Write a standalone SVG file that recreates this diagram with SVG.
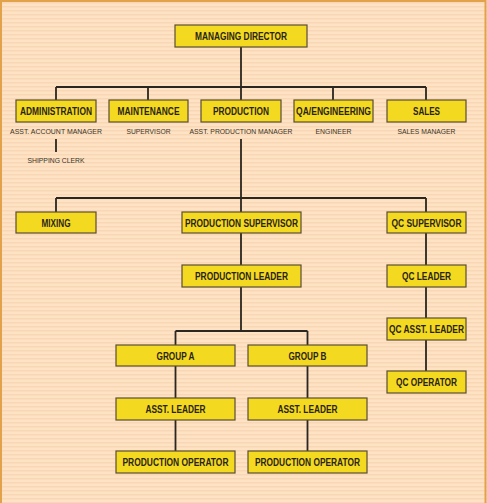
<svg xmlns="http://www.w3.org/2000/svg" width="487" height="503" viewBox="0 0 487 503">
<defs>
<pattern id="stripes" width="4" height="4" patternUnits="userSpaceOnUse">
<rect width="4" height="4" fill="#fde2c4"/>
<rect y="2" width="4" height="1.5" fill="#f9d6b4"/>
</pattern>
</defs>
<style>
.box{fill:#f4d921;stroke:#5a4e33;stroke-width:1.2}
.t{font-family:"Liberation Sans",Arial,sans-serif;font-weight:bold;font-size:10.5px;fill:#2a2418;text-anchor:middle}
.s{font-family:"Liberation Sans",Arial,sans-serif;font-size:8px;fill:#3a3428;text-anchor:middle}
.ln{stroke:#2b2620;stroke-width:1.8;fill:none}
</style>
<rect width="487" height="503" fill="url(#stripes)"/>
<rect x="1" y="1" width="484.5" height="505" fill="none" stroke="#e2a24a" stroke-width="2"/>
<g id="connectors" class="ln">
<path d="M241 47V87M56 87H426M56 87V100M148 87V100M241 87V100M333 87V100M426 87V100"/>
<path d="M56 139V152"/>
<path d="M241 139V198M56 198H426M56 198V212M241 198V212M426 198V212"/>
<path d="M241 233V265M241 287V331M175.5 331H307.5M175.5 331V345M307.5 331V345"/>
<path d="M175.5 366V398M175.5 420V451M307.5 366V398M307.5 420V451"/>
<path d="M426 233V265M426 287V318M426 340V371"/>
</g>
<g id="managing-director"><rect class="box" x="175" y="25" width="132" height="22"/><text class="t" x="241" y="40" textLength="92" lengthAdjust="spacingAndGlyphs">MANAGING DIRECTOR</text></g>
<g id="administration"><rect class="box" x="16" y="100" width="80" height="22"/><text class="t" x="56" y="115" textLength="72" lengthAdjust="spacingAndGlyphs">ADMINISTRATION</text><text class="s" x="56" y="134" textLength="92" lengthAdjust="spacingAndGlyphs">ASST. ACCOUNT MANAGER</text><text class="s" x="56" y="162.5" textLength="57" lengthAdjust="spacingAndGlyphs">SHIPPING CLERK</text></g>
<g id="maintenance"><rect class="box" x="109" y="100" width="79" height="22"/><text class="t" x="148.5" y="115" textLength="62" lengthAdjust="spacingAndGlyphs">MAINTENANCE</text><text class="s" x="148.5" y="134" textLength="44" lengthAdjust="spacingAndGlyphs">SUPERVISOR</text></g>
<g id="production"><rect class="box" x="201" y="100" width="80" height="22"/><text class="t" x="241" y="115" textLength="56" lengthAdjust="spacingAndGlyphs">PRODUCTION</text><text class="s" x="241" y="134" textLength="103" lengthAdjust="spacingAndGlyphs">ASST. PRODUCTION MANAGER</text></g>
<g id="qa-engineering"><rect class="box" x="294" y="100" width="79" height="22"/><text class="t" x="333.5" y="115" textLength="75" lengthAdjust="spacingAndGlyphs">QA/ENGINEERING</text><text class="s" x="333.5" y="134" textLength="36" lengthAdjust="spacingAndGlyphs">ENGINEER</text></g>
<g id="sales"><rect class="box" x="387" y="100" width="79" height="22"/><text class="t" x="426.5" y="115" textLength="27" lengthAdjust="spacingAndGlyphs">SALES</text><text class="s" x="426.5" y="134" textLength="58" lengthAdjust="spacingAndGlyphs">SALES MANAGER</text></g>
<g id="mixing"><rect class="box" x="16" y="212" width="80" height="21"/><text class="t" x="56" y="226.5" textLength="29" lengthAdjust="spacingAndGlyphs">MIXING</text></g>
<g id="production-supervisor"><rect class="box" x="182" y="212" width="119" height="21"/><text class="t" x="241.5" y="226.5" textLength="113" lengthAdjust="spacingAndGlyphs">PRODUCTION SUPERVISOR</text></g>
<g id="qc-supervisor"><rect class="box" x="387" y="212" width="79" height="21"/><text class="t" x="426.5" y="226.5" textLength="70" lengthAdjust="spacingAndGlyphs">QC SUPERVISOR</text></g>
<g id="production-leader"><rect class="box" x="182" y="265" width="119" height="22"/><text class="t" x="241.5" y="280" textLength="93" lengthAdjust="spacingAndGlyphs">PRODUCTION LEADER</text></g>
<g id="qc-leader"><rect class="box" x="387" y="265" width="79" height="22"/><text class="t" x="426.5" y="280" textLength="49" lengthAdjust="spacingAndGlyphs">QC LEADER</text></g>
<g id="qc-asst-leader"><rect class="box" x="387" y="318" width="79" height="22"/><text class="t" x="426.5" y="333" textLength="75" lengthAdjust="spacingAndGlyphs">QC ASST. LEADER</text></g>
<g id="qc-operator"><rect class="box" x="387" y="371" width="79" height="22"/><text class="t" x="426.5" y="386" textLength="61" lengthAdjust="spacingAndGlyphs">QC OPERATOR</text></g>
<g id="group-a"><rect class="box" x="116" y="345" width="119" height="21"/><text class="t" x="175.5" y="359.5" textLength="38" lengthAdjust="spacingAndGlyphs">GROUP A</text></g>
<g id="group-b"><rect class="box" x="248" y="345" width="119" height="21"/><text class="t" x="307.5" y="359.5" textLength="38" lengthAdjust="spacingAndGlyphs">GROUP B</text></g>
<g id="asst-leader-a"><rect class="box" x="116" y="398" width="119" height="22"/><text class="t" x="175.5" y="413" textLength="60" lengthAdjust="spacingAndGlyphs">ASST. LEADER</text></g>
<g id="asst-leader-b"><rect class="box" x="248" y="398" width="119" height="22"/><text class="t" x="307.5" y="413" textLength="60" lengthAdjust="spacingAndGlyphs">ASST. LEADER</text></g>
<g id="production-operator-a"><rect class="box" x="116" y="451" width="119" height="22"/><text class="t" x="175.5" y="466" textLength="106" lengthAdjust="spacingAndGlyphs">PRODUCTION OPERATOR</text></g>
<g id="production-operator-b"><rect class="box" x="248" y="451" width="119" height="22"/><text class="t" x="307.5" y="466" textLength="105" lengthAdjust="spacingAndGlyphs">PRODUCTION OPERATOR</text></g>
</svg>
